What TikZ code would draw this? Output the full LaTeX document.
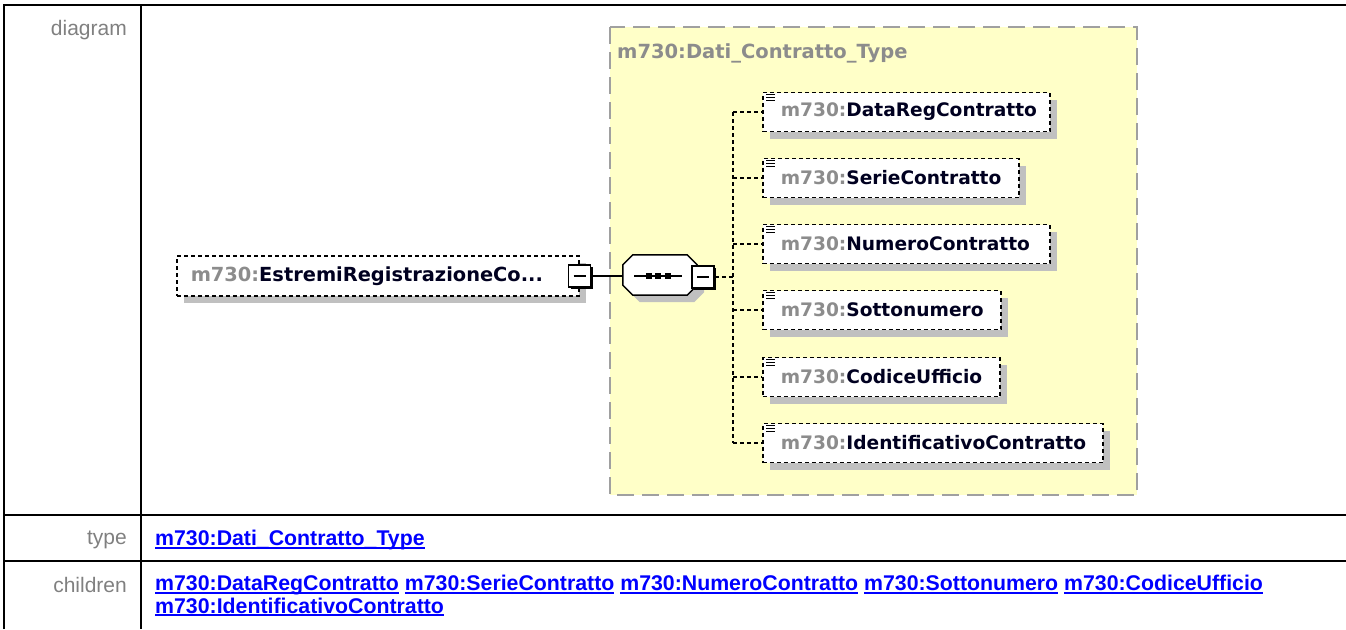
\documentclass[tikz,border=0pt]{standalone}
\usepackage{fontspec}
\setmainfont{Liberation Sans}
\newfontfamily\xsdfont{DejaVu Sans}
\usetikzlibrary{positioning,calc,shadows}

\definecolor{typefill}{HTML}{FFFFC8}
\definecolor{typeborder}{HTML}{A0A0A0}
\definecolor{shadowgray}{HTML}{C0C0C0}
\definecolor{prefixgray}{HTML}{8C8C8C}
\definecolor{labelgray}{HTML}{808080}
\definecolor{linkblue}{HTML}{0000FF}
\definecolor{namedark}{HTML}{000020}

\newcommand{\pfx}[1]{{\color{prefixgray}m730:}{\color{namedark}#1}}
\newcommand{\lnk}[1]{\setbox0=\hbox{#1}\rlap{\copy0}\rule[-3pt]{\wd0}{1.8pt}}

\begin{document}
\begin{tikzpicture}[x=1pt, y=-1pt,
    tableline/.style={line width=2pt},
    rowlabel/.style={anchor=east, text=labelgray, inner sep=0pt, font=\fontsize{21}{24}\selectfont},
    linktext/.style={anchor=west, text=linkblue, inner sep=0pt, align=left, font=\bfseries\fontsize{21.3}{22.5}\selectfont},
    elembox/.style={draw, fill=white, line width=1.5pt, dash pattern=on 4pt off 3pt,
      inner xsep=0pt, inner ysep=0pt, minimum height=39pt, anchor=west, align=left,
      font=\xsdfont\bfseries\fontsize{18.6}{20}\selectfont,
      drop shadow={shadow xshift=7pt, shadow yshift=-7pt, fill=shadowgray, opacity=1}},
    minusbox/.style={draw, fill=white, line width=1.5pt, minimum width=22pt, minimum height=22pt, inner sep=0pt,
      drop shadow={shadow xshift=2pt, shadow yshift=-2pt, fill=black, opacity=1},
      path picture={\draw[line width=1.5pt] ([xshift=-6pt]path picture bounding box.center) -- ([xshift=6pt]path picture bounding box.center);}},
    dashedline/.style={line width=1.5pt, dash pattern=on 4pt off 3pt}]
  \useasboundingbox (0,0) rectangle (1346,629);
  % table
  \draw[tableline] (4,629) -- (4,5) -- (1346,5);
  \draw[tableline] (141,5) -- (141,629);
  \draw[tableline] (4,515) -- (1346,515);
  \draw[tableline] (4,561) -- (1346,561);
  \node[rowlabel] (lbldiagram) at (127,30) {diagram};
  \node[rowlabel] (lbltype) at (127,540) {type};
  \node[rowlabel] (lblchildren) at (127,585) {children};
  \node[linktext] (typelink) at (155,540) {\lnk{m730:Dati\_Contratto\_Type}};
  \node[linktext, anchor=north west] (childlinks) at (155,575) {\lnk{m730:DataRegContratto} \lnk{m730:SerieContratto} \lnk{m730:NumeroContratto} \lnk{m730:Sottonumero} \lnk{m730:CodiceUfficio}\\ \lnk{m730:IdentificativoContratto}};
  % complex type
  \draw[fill=typefill, draw=typeborder, line width=2pt, dash pattern=on 17pt off 8pt] (610,27) rectangle (1137,495);
  \node[anchor=west, inner sep=0pt, text=prefixgray, font=\xsdfont\bfseries\fontsize{19.5}{21}\selectfont] (typetitle) at (617,53) {m730:Dati\_Contratto\_Type};
  % element
  \node[elembox, minimum height=40pt, text width=402pt, font=\xsdfont\bfseries\fontsize{19.4}{21}\selectfont] (root) at (176,276) {\hspace*{14pt}\pfx{EstremiRegistrazioneCo...}};
  \node[minusbox] (rootminus) at (root.east) {};
  % sequence
  \node[inner sep=0pt, minimum width=74pt, minimum height=40pt] (seq) at (660,275) {};
  \draw[line width=1.5pt, fill=white, drop shadow={shadow xshift=7pt, shadow yshift=-7pt, fill=shadowgray, opacity=1}]
    ($(seq.north west)+(10,0)$) -- ($(seq.north east)+(-10,0)$) -- ($(seq.north east)+(0,10)$) -- ($(seq.south east)+(0,-10)$)
    -- ($(seq.south east)+(-10,0)$) -- ($(seq.south west)+(10,0)$) -- ($(seq.south west)+(0,-10)$) -- ($(seq.north west)+(0,10)$) -- cycle;
  \draw[line width=1.5pt] ($(seq.center)+(-26,1)$) -- ($(seq.center)+(22,1)$);
  \foreach \dx in {-11.5,-2.5,7.5}
    \fill ($(seq.center)+(\dx,1)+(-3,-3)$) rectangle ++(6,6);
  \node[minusbox] (seqminus) at ($(seq.east)+(6,2)$) {};
  \coordinate (trunk) at (733,277);
  \draw[line width=1.5pt] (rootminus.east) -- (seq.west |- rootminus.east);
  \draw[dashedline] (seqminus.east) -- (trunk);
  % children
  \node[elembox, text width=287pt] (c1) at (762,112) {\hspace*{18pt}\pfx{DataRegContratto}};
  \node[elembox, text width=256pt] (c2) at (762,178) {\hspace*{18pt}\pfx{SerieContratto}};
  \node[elembox, text width=287pt] (c3) at (762,244) {\hspace*{18pt}\pfx{NumeroContratto}};
  \node[elembox, text width=238pt] (c4) at (762,310) {\hspace*{18pt}\pfx{Sottonumero}};
  \node[elembox, text width=237pt] (c5) at (762,377) {\hspace*{18pt}\pfx{CodiceUfficio}};
  \node[elembox, text width=340pt] (c6) at (762,443) {\hspace*{18pt}\pfx{IdentificativoContratto}};
  \draw[dashedline] (trunk |- c1.west) -- (trunk |- c6.west);
  \foreach \c in {c1,c2,c3,c4,c5,c6} {
    \draw[dashedline] (trunk |- \c.west) -- (\c.west);
    \foreach \dy in {3,6,9}
      \draw[line width=1pt] ($(\c.north west)+(4,\dy)$) -- ++(9,0);
  }
\end{tikzpicture}
\end{document}
